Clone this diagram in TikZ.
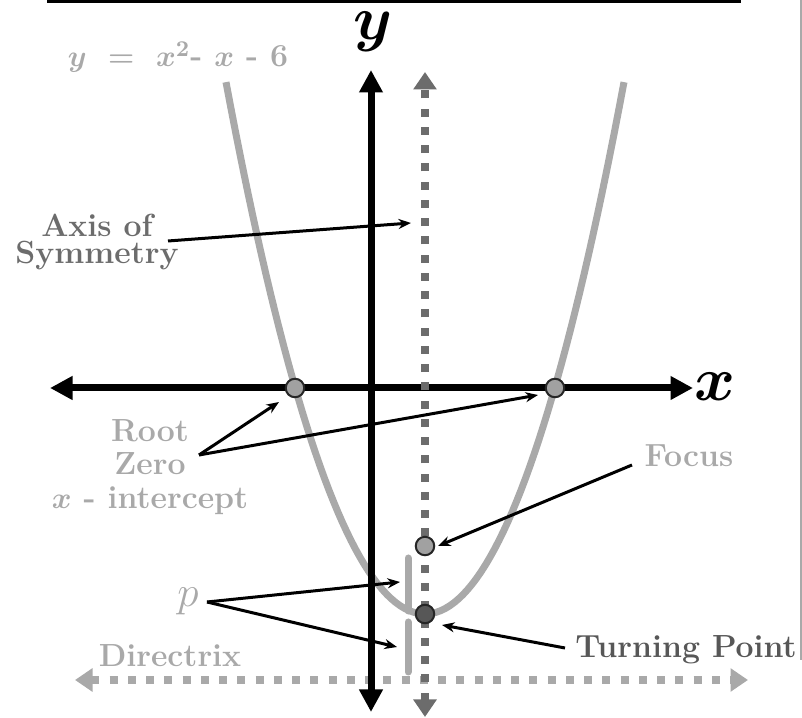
\documentclass[tikz,border=0pt]{standalone}
\usepackage{amsmath}
\usepackage{tikz}
\usetikzlibrary{arrows.meta}

\definecolor{lightgrey}{HTML}{A9A9A9}
\definecolor{midgrey}{HTML}{6C6C6C}
\definecolor{darkgrey}{HTML}{575757}

\begin{document}
\begin{tikzpicture}[
    x=0.4pt,
    y=-0.4pt,
    font=\fontsize{12.8}{10.8}\selectfont\bfseries,
    axisline/.style={
        line width=2.8pt,
        {Triangle[length=9pt,width=9pt]}-{Triangle[length=9pt,width=9pt]}
    },
    dotline/.style={
        line width=3.2pt,
        dash pattern=on 3.2pt off 4.1pt,
        {Triangle[length=7pt,width=9pt]}-{Triangle[length=7pt,width=9pt]}
    },
    pointer/.style={
        line width=1.2pt,
        -{Stealth[length=5pt,width=4pt]}
    },
    markdot/.style={
        circle,
        draw=black!85,
        line width=0.8pt,
        minimum size=7.4pt,
        inner sep=0pt
    },
    axislabel/.style={
        anchor=base,
        inner sep=1pt,
        font=\fontsize{23}{23}\selectfont\boldmath
    }
]

\useasboundingbox (0,0) rectangle (802,718);

% Frame pieces at the top and the right
\fill (47,0) rectangle (741,3.5);
\draw[lightgrey, line width=0.5pt] (801,0) -- (801,660);

% Parabola
\draw[lightgrey, line width=2.8pt]
    plot[domain=226:624, samples=90] (\x, {614-(0.11589*(\x-425))^2});

% Directrix
\coordinate (dirL) at (75,680);
\coordinate (dirR) at (748,680);
\draw[dotline, lightgrey] (dirL) -- (dirR);

% Distance p, twice
\draw[lightgrey, line width=2.8pt, line cap=round] (408,558) -- (408,611);
\draw[lightgrey, line width=2.8pt, line cap=round] (408,622) -- (408,672);

% Axes
\coordinate (xL) at (50,388);
\coordinate (xR) at (693,388);
\coordinate (yT) at (371,70);
\coordinate (yB) at (371,712);
\draw[axisline] (xL) -- (xR);
\draw[axisline] (yB) -- (yT);

% Axis of symmetry
\coordinate (symT) at (425,72);
\coordinate (symB) at (425,717);
\draw[dotline, midgrey] (symB) -- (symT);

% Roots, focus and vertex
\node[markdot, fill=black!37] (rootL) at (295,388) {};
\node[markdot, fill=black!37] (rootR) at (555,388) {};
\node[markdot, fill=black!37] (focus) at (425,546) {};
\node[markdot, fill=darkgrey] (vertex) at (425,614) {};

% Labels
\node[axislabel] (ylabel) at (373,40) {$y$};
\node[axislabel] (xlabel) at (715,401) {$x$};
\node[anchor=base, text=lightgrey, font=\fontsize{12.8}{10.8}\selectfont\bfseries\boldmath] (eqn) at (178,67) {$y\ =\ x^{2}$- $x$ - 6};
\node[align=center, text=midgrey] (symlabel) at (97,242) {Axis of\\Symmetry};
\node[align=center, text=lightgrey, font=\fontsize{12.8}{13.3}\selectfont\bfseries\boldmath] (rootlabel) at (150,467) {Root\\Zero\\$x$ - intercept};
\node[anchor=base, text=lightgrey] (focuslabel) at (689,467) {Focus};
\node[anchor=base, text=darkgrey] (turnlabel) at (686,658) {Turning Point};
\node[anchor=base, text=lightgrey] (dirlabel) at (170,667) {Directrix};
\node[anchor=base, text=lightgrey, font=\fontsize{16}{16}\selectfont] (plabel) at (188,607) {$p$};

% Pointers
\coordinate (symfrom) at (168,241);
\coordinate (symtip) at (411,223);
\draw[pointer] (symfrom) -- (symtip);

\coordinate (rootfork) at (199,455);
\coordinate (rootLtip) at (279,402);
\coordinate (rootRtip) at (538,395);
\draw[pointer] (rootfork) -- (rootLtip);
\draw[pointer] (rootfork) -- (rootRtip);

\coordinate (pfork) at (207,602);
\coordinate (puptip) at (400,582);
\coordinate (pdowntip) at (397,647);
\draw[pointer] (pfork) -- (puptip);
\draw[pointer] (pfork) -- (pdowntip);

\coordinate (focusfrom) at (632,465);
\coordinate (focustip) at (438,546);
\draw[pointer] (focusfrom) -- (focustip);

\coordinate (turnfrom) at (565,648);
\coordinate (turntip) at (442,625);
\draw[pointer] (turnfrom) -- (turntip);

\end{tikzpicture}
\end{document}
